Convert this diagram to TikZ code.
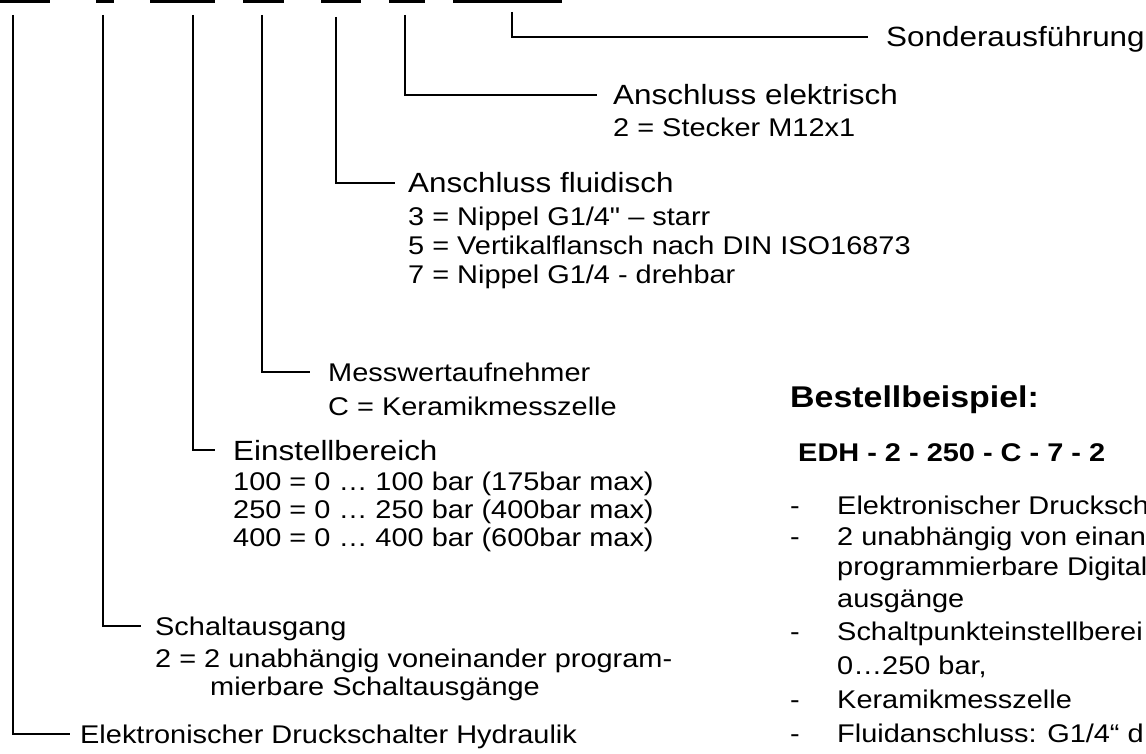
\documentclass[tikz,border=0pt]{standalone}
\usepackage{fontspec}
\newfontfamily\arialx{Liberation Sans}[FakeStretch=1.13]
\tikzset{
  item/.style={anchor=west, inner sep=0pt, font=\arialx\fontsize{25.6}{30}\selectfont,
    text height=18.4pt, text depth=0pt},
  head/.style={item, font=\arialx\fontsize{27.8}{33}\selectfont, text height=20pt},
  conn/.style={line width=1.6pt}
}
\begin{document}
\begin{tikzpicture}[x=1pt,y=-1pt]
    \useasboundingbox (0,0) rectangle (1146,754);
    \clip (0,0) rectangle (1146,754);

    % Code fields of the type key
    \foreach \a/\b in {-5/50, 96/114, 150/215, 243/284, 321/361, 389/425, 453/562}
        \fill (\a,-3) rectangle (\b,3);

    % Tops of the leader lines
    \coordinate (t1) at (13,15);
    \coordinate (t2) at (103,15);
    \coordinate (t3) at (193,15);
    \coordinate (t4) at (262,15);
    \coordinate (t5) at (336,17);
    \coordinate (t6) at (405,15);
    \coordinate (t7) at (512,12);

    % Sonderausfuehrung
    \node[head] (sond) at (886,37) {Sonderausführung};
    \draw[conn] (t7) |- ([xshift=-18pt]sond.west);

    % Anschluss elektrisch
    \node[head] (elek) at (613,95) {Anschluss elektrisch};
    \node[item] (elek1) at (613,127) {2 = Stecker M12x1};
    \draw[conn] (t6) |- ([xshift=-16pt]elek.west);

    % Anschluss fluidisch
    \node[head] (fluid) at (408,183) {Anschluss fluidisch};
    \node[item] (fluid1) at (408,216) {3 = Nippel G1/4" – starr};
    \node[item] (fluid2) at (408,245) {5 = Vertikalflansch nach DIN ISO16873};
    \node[item] (fluid3) at (408,274) {7 = Nippel G1/4 - drehbar};
    \draw[conn] (t5) |- ([xshift=-13pt]fluid.west);

    % Messwertaufnehmer
    \node[item] (mess) at (328,372) {Messwertaufnehmer};
    \node[item] (mess1) at (328,406) {C = Keramikmesszelle};
    \draw[conn] (t4) |- ([xshift=-18pt]mess.west);

    % Einstellbereich
    \node[head] (einst) at (233,450) {Einstellbereich};
    \node[item] (einst1) at (233,481) {100 = 0 … 100 bar (175bar max)};
    \node[item] (einst2) at (233,509) {250 = 0 … 250 bar (400bar max)};
    \node[item] (einst3) at (233,537) {400 = 0 … 400 bar (600bar max)};
    \draw[conn] (t3) |- ([xshift=-18pt]einst.west);

    % Schaltausgang
    \node[item] (schalt) at (155,626) {Schaltausgang};
    \node[item] (schalt1) at (155,658) {2 = 2 unabhängig voneinander program-};
    \node[item] (schalt2) at (210,686) {mierbare Schaltausgänge};
    \draw[conn] (t2) |- ([xshift=-14pt]schalt.west);

    % Geraetetyp
    \node[item] (typ) at (80,734) {Elektronischer Druckschalter Hydraulik};
    \draw[conn] (t1) |- ([xshift=-10pt]typ.west);

    % Bestellbeispiel
    \node[item, font=\arialx\fontsize{30}{36}\selectfont\bfseries, text height=21.5pt] (bsp) at (790,397) {Bestellbeispiel:};
    \node[item, font=\arialx\fontsize{25.6}{30}\selectfont\bfseries] (code) at (798,452) {EDH - 2 - 250 - C - 7 - 2};

    \node[item] (d1) at (790,505) {-};
    \node[item] (b1) at (837,505) {Elektronischer Drucksch};
    \node[item] (d2) at (790,536) {-};
    \node[item] (b2) at (837,536) {2 unabhängig von einan};
    \node[item] (b3) at (837,566) {programmierbare Digital};
    \node[item] (b4) at (837,598) {ausgänge};
    \node[item] (d5) at (790,631) {-};
    \node[item] (b5) at (837,631) {Schaltpunkteinstellberei};
    \node[item] (b6) at (837,665) {0…250 bar,};
    \node[item] (d7) at (790,699) {-};
    \node[item] (b7) at (837,699) {Keramikmesszelle};
    \node[item] (d8) at (790,733) {-};
    \node[item] (b8) at (837,733) {Fluidanschluss: G1/4“ d};
\end{tikzpicture}
\end{document}
